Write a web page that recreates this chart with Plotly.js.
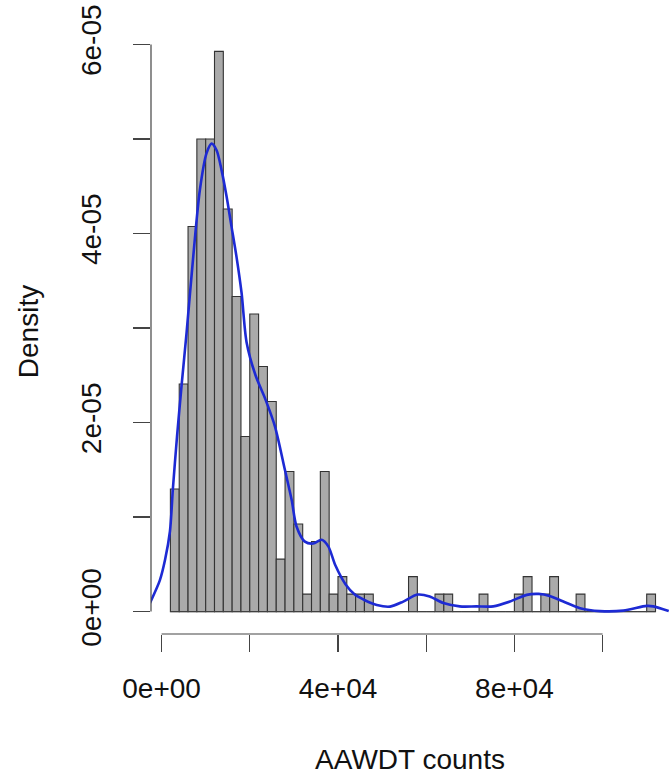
<!DOCTYPE html>
<html>
<head>
<meta charset="utf-8">
<script src="https://cdn.plot.ly/plotly-3.0.1.min.js"></script>
<style>html,body{margin:0;padding:0;background:#fff;}#chart{width:669px;height:778px;}</style>
</head>
<body>
<div id="chart"></div>
<script>
// Histogram bins (AAWDT counts), width 2000, starting at 2000
const binStart = 2000;
const binWidth = 2000;
const totalCount = 270;
// counts per bin, bins [2000,4000), [4000,6000), ... up to [112000,114000)
const binCounts = [7, 13, 22, 27, 27, 32, 23, 18, 10, 17, 14, 12, 3, 8, 5, 1, 4, 8, 1, 2,
                   1, 1, 1, 0, 0, 0, 0, 2, 0, 0, 1, 1, 0, 0, 0, 1, 0, 0, 0, 1,
                   2, 0, 1, 2, 0, 0, 1, 0, 0, 0, 0, 0, 0, 0, 1];

// Kernel density estimate curve
const densX = [-2650, -400, 800, 1900, 2560, 3500, 4540, 5670, 7170, 8680, 10200, 11340, 12470,
               13600, 14740, 15870, 17000, 18140, 19270, 21300, 23500, 25700, 27960, 29500,
               30600, 32500, 34400, 36300, 37800, 39400, 41700, 43800, 46100, 48800, 51800,
               54800, 58000, 60800, 63900, 67600, 71400, 75200, 79000, 82800, 85500, 88000,
               91100, 94900, 99400, 104700, 110000, 111500, 115000];
const densY = [0.9e-6, 3.3e-6, 5.5e-6, 8.5e-6, 12.97e-6, 18.5e-6, 23.96e-6, 29.5e-6, 37.5e-6, 44.6e-6,
               48.5e-6, 49.5e-6, 48.8e-6, 46.7e-6, 43.9e-6, 40.7e-6, 37.5e-6, 33.7e-6, 28.5e-6,
               25.0e-6, 22.5e-6, 19.6e-6, 15.0e-6, 11.8e-6, 9.0e-6, 7.4e-6, 7.2e-6, 7.6e-6, 6.9e-6,
               4.9e-6, 2.9e-6, 1.8e-6, 1.2e-6, 0.7e-6, 0.53e-6, 1.06e-6, 1.8e-6, 1.6e-6, 0.9e-6,
               0.55e-6, 0.55e-6, 0.55e-6, 1.06e-6, 1.77e-6, 1.87e-6, 1.66e-6, 1.06e-6, 0.36e-6,
               0.05e-6, 0.1e-6, 0.6e-6, 0.55e-6, 0.05e-6];

// Axis ticks
const xTickVals = [0, 20000, 40000, 60000, 80000, 100000];
const xTickText = ['0e+00', '', '4e+04', '', '8e+04', ''];
const yTickVals = [0, 1e-5, 2e-5, 3e-5, 4e-5, 5e-5, 6e-5];
const yTickText = ['0e+00', '', '2e-05', '', '4e-05', '', '6e-05'];

const mids = binCounts.map((c, i) => binStart + binWidth * (i + 0.5));
const dens = binCounts.map(c => c / (totalCount * binWidth));
const lastEdge = binStart + binWidth * binCounts.length;

const font = {family: '"Liberation Sans", Arial, Helvetica, sans-serif', size: 28, color: '#111'};

const traces = [
  {
    type: 'scatter', mode: 'lines',
    x: [binStart, lastEdge], y: [0, 0],
    line: {color: '#444', width: 1}, hoverinfo: 'skip', showlegend: false
  },
  {
    type: 'bar', x: mids, y: dens, width: binWidth,
    marker: {color: '#aaaaaa', line: {color: '#333333', width: 1.1}},
    showlegend: false
  },
  {
    type: 'scatter', mode: 'lines', x: densX, y: densY,
    line: {color: '#1d2ad4', width: 2.6, shape: 'spline', smoothing: 0.8},
    showlegend: false
  }
];

const layout = {
  width: 669, height: 778,
  margin: {l: 151, r: 0, t: 29, b: 144, pad: 0},
  paper_bgcolor: '#fff', plot_bgcolor: '#fff',
  font: font,
  bargap: 0,
  xaxis: {
    range: [-2400, 115060],
    tickvals: xTickVals, ticktext: xTickText,
    ticks: 'outside', ticklen: 17, tickwidth: 1.2, tickcolor: '#444',
    showgrid: false, zeroline: false, showline: false,
    tickfont: font, ticklabelstandoff: 12,
    title: {text: 'AAWDT counts', font: font, standoff: 46}
  },
  yaxis: {
    range: [-2.37e-6, 6.163e-5],
    tickvals: yTickVals, ticktext: yTickText,
    ticks: 'outside', ticklen: 17, tickwidth: 1.2, tickcolor: '#444',
    tickangle: -90,
    showgrid: false, zeroline: false, showline: false,
    tickfont: font, ticklabelstandoff: 21,
    title: {text: 'Density', font: font, standoff: 28}
  },
  shapes: [
    {type: 'line', xref: 'x', yref: 'paper', x0: xTickVals[0], x1: xTickVals[xTickVals.length - 1], y0: 0, y1: 0,
     line: {color: '#444', width: 1.2}},
    {type: 'line', xref: 'paper', yref: 'y', x0: 0, x1: 0, y0: yTickVals[0], y1: yTickVals[yTickVals.length - 1],
     line: {color: '#444', width: 1.2}}
  ]
};

Plotly.newPlot('chart', traces, layout, {displayModeBar: false, staticPlot: true});
</script>
</body>
</html>
